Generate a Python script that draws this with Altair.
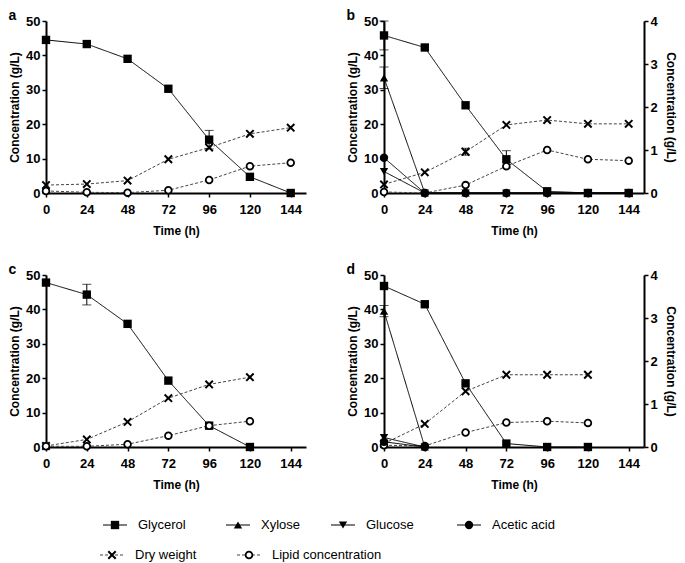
import altair as alt
import pandas as pd

FONT = "Liberation Sans"

# ---------------- data ----------------
TIME_7 = [0, 24, 48, 72, 96, 120, 144]
TIME_6 = [0, 24, 48, 72, 96, 120]
TIME_2 = [0, 24]
TICKS = [0, 24, 48, 72, 96, 120, 144]

# panel a (left axis, g/L)
a_glycerol = [44.5, 43.3, 39.0, 30.3, 15.5, 4.7, 0.0]
a_dry = [2.3, 2.6, 3.6, 9.8, 13.2, 17.2, 19.0]
a_lipid = [0.6, 0.2, 0.1, 0.8, 3.8, 7.8, 8.8]

# panel b
b_glycerol = [45.8, 42.3, 25.5, 9.8, 0.5, 0.0, 0.0]
b_dry = [2.5, 6.0, 12.0, 19.8, 21.2, 20.1, 20.1]
b_lipid = [0.3, 0.0, 2.3, 7.8, 12.5, 9.8, 9.4]
b_xylose = [2.68, 0, 0, 0, 0, 0, 0]      # right axis
b_glucose = [0.50, 0, 0, 0, 0, 0, 0]     # right axis
b_acetic = [0.82, 0, 0, 0, 0, 0, 0]      # right axis

# panel c
c_glycerol = [47.8, 44.3, 35.8, 19.3, 6.2, 0.0]
c_dry = [0.3, 2.2, 7.3, 14.2, 18.2, 20.3]
c_lipid = [0.2, 0.2, 0.8, 3.3, 6.2, 7.5]

# panel d
d_glycerol = [46.8, 41.5, 18.5, 1.0, 0.0, 0.0]
d_dry = [1.0, 6.7, 16.2, 21.0, 21.0, 21.0]
d_lipid = [0.5, 0.3, 4.2, 7.1, 7.5, 7.0]
d_xylose = [3.16, 0.0]   # right axis
d_glucose = [0.22, 0.0]  # right axis
d_acetic = [0.12, 0.0]   # right axis

# error bars: (series, time, value, error)
err_a = [("Glycerol", 96, 15.5, 2.7)]
err_b = [("Glycerol", 0, 45.8, 4.2), ("Glycerol", 72, 9.8, 2.5), ("Dry weight", 48, 12.0, 1.0)]
err_b_right = [("Xylose", 0, 2.68, 0.25)]
err_c = [("Glycerol", 24, 44.3, 3.0)]
err_d_right = [("Xylose", 0, 3.16, 0.13)]

SERIES = ["Glycerol", "Xylose", "Glucose", "Acetic acid", "Dry weight", "Lipid concentration"]
FILLED = SERIES[:4]
FILLED_SHAPES = ["square", "triangle-up", "triangle-down", "circle"]
DASHES = [[1, 0]] * 4 + [[3, 2]] * 2
LINE_COLORS = ["black"] * 4 + ["#444444"] * 2
XPATH = "M-1,-1L1,1M-1,1L1,-1"


def long_df(t, series):
    rows = []
    for name, vals in series.items():
        for ti, v in zip(t, vals):
            rows.append({"t": ti, "v": v, "series": name})
    return pd.DataFrame(rows)


def err_df(errs):
    return pd.DataFrame([{"series": s, "t": t, "lo": v - e, "hi": v + e} for s, t, v, e in errs])


X_ENC = alt.X("t:Q", scale=alt.Scale(domain=[0, 153]),
              axis=alt.Axis(values=TICKS, title="Time (h)", labelFlush=False, tickSize=4,
                            labelPadding=6, titlePadding=9))

dash_scale = alt.Scale(domain=SERIES, range=DASHES)
col_scale = alt.Scale(domain=SERIES, range=LINE_COLORS)


def marker_layers(df, x, y):
    base = alt.Chart(df)
    filled = base.transform_filter(alt.FieldOneOfPredicate(field="series", oneOf=FILLED)).mark_point(
        filled=True, color="black", opacity=1, size=70
    ).encode(x=x, y=y, shape=alt.Shape("series:N", scale=alt.Scale(domain=FILLED, range=FILLED_SHAPES), legend=None))
    dry = base.transform_filter(alt.datum.series == "Dry weight").mark_point(
        shape=XPATH, filled=False, color="black", strokeWidth=2, size=55, opacity=1
    ).encode(x=x, y=y)
    lipid = base.transform_filter(alt.datum.series == "Lipid concentration").mark_point(
        shape="circle", filled=True, fill="white", stroke="black", strokeWidth=1.8, size=45, opacity=1
    ).encode(x=x, y=y)
    return [filled, dry, lipid]


def series_layers(df, errs, yscale, yaxis):
    y = alt.Y("v:Q", scale=yscale, axis=yaxis)
    line = alt.Chart(df).mark_line(strokeWidth=1).encode(
        x=X_ENC, y=y, detail="series:N",
        strokeDash=alt.StrokeDash("series:N", scale=dash_scale, legend=None),
        color=alt.Color("series:N", scale=col_scale, legend=None),
        order="t:Q",
    )
    layers = [line]
    if errs:
        edf = err_df(errs)
        ey = alt.Y("lo:Q", scale=yscale, axis=yaxis)
        rule = alt.Chart(edf).mark_rule(color="black", strokeWidth=1).encode(x=X_ENC, y=ey, y2="hi:Q")
        cap_hi = alt.Chart(edf).mark_tick(orient="horizontal", color="black", thickness=1, size=9).encode(
            x=X_ENC, y=alt.Y("hi:Q", scale=yscale, axis=yaxis))
        cap_lo = alt.Chart(edf).mark_tick(orient="horizontal", color="black", thickness=1, size=9).encode(
            x=X_ENC, y=alt.Y("lo:Q", scale=yscale, axis=yaxis))
        layers += [rule, cap_hi, cap_lo]
    layers += marker_layers(df, X_ENC, y)
    return layers


LEFT_AXIS = alt.Axis(values=[0, 10, 20, 30, 40, 50], title="Concentration (g/L)", tickSize=4,
                     labelPadding=2, titlePadding=4)
RIGHT_AXIS = alt.Axis(values=[0, 1, 2, 3, 4], title="Concentration (g/L)", orient="right", tickSize=4,
                      labelPadding=2, titlePadding=6)


def panel(label, left_df, left_err, right_df=None, right_err=None):
    left = alt.layer(*series_layers(left_df, left_err, alt.Scale(domain=[0, 50], nice=False), LEFT_AXIS))
    if right_df is not None:
        right = alt.layer(*series_layers(right_df, right_err, alt.Scale(domain=[0, 4], nice=False), RIGHT_AXIS))
        ch = alt.layer(left, right).resolve_scale(y="independent")
    else:
        ch = left
    return ch.properties(
        width=260, height=172,
        title=alt.TitleParams(label, anchor="start", frame="bounds", fontSize=14, fontWeight="bold",
                              font=FONT, offset=-8),
    )


pa = panel("a", long_df(TIME_7, {"Glycerol": a_glycerol, "Dry weight": a_dry, "Lipid concentration": a_lipid}), err_a)
pb = panel("b", long_df(TIME_7, {"Glycerol": b_glycerol, "Dry weight": b_dry, "Lipid concentration": b_lipid}), err_b,
           long_df(TIME_7, {"Xylose": b_xylose, "Glucose": b_glucose, "Acetic acid": b_acetic}), err_b_right)
pc = panel("c", long_df(TIME_6, {"Glycerol": c_glycerol, "Dry weight": c_dry, "Lipid concentration": c_lipid}), err_c)
pd_ = panel("d", long_df(TIME_6, {"Glycerol": d_glycerol, "Dry weight": d_dry, "Lipid concentration": d_lipid}), [],
            long_df(TIME_2, {"Xylose": d_xylose, "Glucose": d_glucose, "Acetic acid": d_acetic}), err_d_right)

# ---------------- legend ----------------
LEG_X = [115, 238, 343, 469, 112, 249]   # marker centres (page px)
LEG_ROW = [0, 0, 0, 0, 1, 1]
LEG_TEXT_GAP = 23
ORIGIN_X = 46
leg = pd.DataFrame({
    "series": SERIES,
    "t": [x - ORIGIN_X for x in LEG_X],
    "v": [10 + 30 * r for r in LEG_ROW],
})
leg["x1"] = leg["t"] - 12
leg["x2"] = leg["t"] + 12
leg["tx"] = leg["t"] + LEG_TEXT_GAP

LW, LH = 600, 48
lx = alt.X("t:Q", scale=alt.Scale(domain=[0, LW], range=[0, LW]), axis=None)
ly = alt.Y("v:Q", scale=alt.Scale(domain=[0, LH], range=[0, LH]), axis=None)
leg_line = alt.Chart(leg).mark_rule(strokeWidth=1.2).encode(
    x=alt.X("x1:Q", scale=alt.Scale(domain=[0, LW], range=[0, LW]), axis=None), x2="x2:Q", y=ly,
    strokeDash=alt.StrokeDash("series:N", scale=dash_scale, legend=None),
    color=alt.Color("series:N", scale=col_scale, legend=None),
)
leg_text = alt.Chart(leg).mark_text(align="left", baseline="middle", font=FONT, fontSize=13, color="black").encode(
    x=alt.X("tx:Q", scale=alt.Scale(domain=[0, LW], range=[0, LW]), axis=None), y=ly, text="series:N")
legend = alt.layer(leg_line, *marker_layers(leg, lx, ly), leg_text).properties(width=LW, height=LH)

top = alt.hconcat(pa, pb, spacing=40)
bottom = alt.hconcat(pc, pd_, spacing=40)
panels = alt.vconcat(top, bottom, spacing=27)
chart = alt.vconcat(panels, legend, spacing=25).properties(
    padding={"left": 0, "top": 1, "right": 0, "bottom": 0}
).configure_view(stroke=None).configure_axis(
    labelFont=FONT, labelFontWeight="bold", labelFontSize=13, labelColor="black",
    titleFont=FONT, titleFontWeight="bold", titleFontSize=12, titleColor="black",
    domainColor="black", domainWidth=2, tickColor="black", tickWidth=1.5, grid=False,
)

chart.save("out.html", embed_options={"renderer": "svg", "actions": False})
